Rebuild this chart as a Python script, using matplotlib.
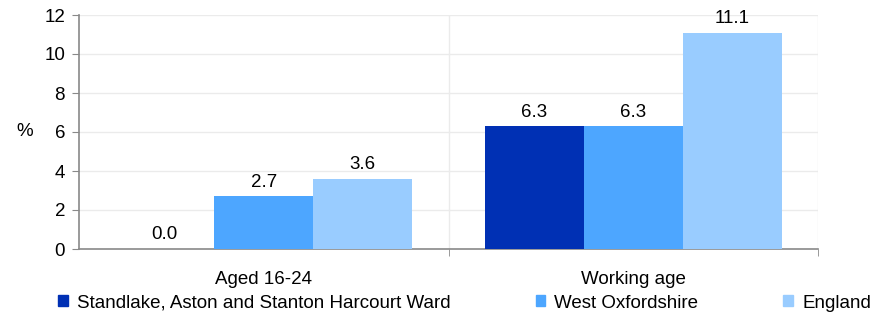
import matplotlib
matplotlib.use("Agg")
import matplotlib.pyplot as plt
from matplotlib.patches import Patch
import numpy as np

plt.rcParams['font.family'] = ['Liberation Sans', 'DejaVu Sans']

categories = ["Aged 16-24", "Working age"]
series_names = ["Standlake, Aston and Stanton Harcourt Ward", "West Oxfordshire", "England"]
ward = [0.0, 6.3]
west_ox = [2.7, 6.3]
england = [3.6, 11.1]
colors = ["#0030B4", "#4DA6FF", "#99CCFF"]
yticks = [0, 2, 4, 6, 8, 10, 12]

FS = 13.5

fig = plt.figure(figsize=(8.84, 3.17), dpi=100)
ax = fig.add_axes([79/884, 1-249/317, (818-79)/884, (249-15)/317])

x = np.arange(len(categories))
w = 0.268
for i, (vals, c, name) in enumerate(zip([ward, west_ox, england], colors, series_names)):
    pos = x + (i-1)*w
    ax.bar(pos, vals, w, color=c, label=name, zorder=3)
    for p, v in zip(pos, vals):
        ax.annotate(f"{v:.1f}", (p, v), xytext=(0, 4), textcoords='offset points',
                    ha='center', va='bottom', fontsize=FS, color='#000000', zorder=4)

ax.set_xlim(-0.5, 1.5)
ax.set_ylim(0, 12)
ax.set_yticks(yticks)
ax.set_yticklabels([str(t) for t in yticks], fontsize=FS)
ax.set_xticks(x)
ax.set_xticklabels(categories, fontsize=FS)
ax.tick_params(axis='x', length=0, pad=16)
ax.tick_params(axis='y', length=5, color='#898989', pad=5)
ax.set_xticks([0.5, 1.5], minor=True)
ax.tick_params(axis='x', which='minor', length=5, color='#898989')
ax.grid(axis='y', color='#EBEBEB', linewidth=1, zorder=0)
ax.grid(axis='x', which='minor', color='#EBEBEB', linewidth=1, zorder=0)
for s in ['top', 'right']:
    ax.spines[s].set_visible(False)
for s in ['left', 'bottom']:
    ax.spines[s].set_color('#898989')
    ax.spines[s].set_linewidth(1.2)

fig.text(25/884, 1-131/317, "%", fontsize=FS, ha='center', va='center')

handles = [Patch(color=c) for c in colors]
fig.legend(handles, series_names, loc='center left', bbox_to_anchor=(58/884, 1-303/317),
           ncol=3, frameon=False, fontsize=FS, handlelength=0.53, handleheight=0.53,
           handletextpad=0.48, columnspacing=4.53, borderaxespad=0, borderpad=0)

fig.savefig("out.png", dpi=100)
